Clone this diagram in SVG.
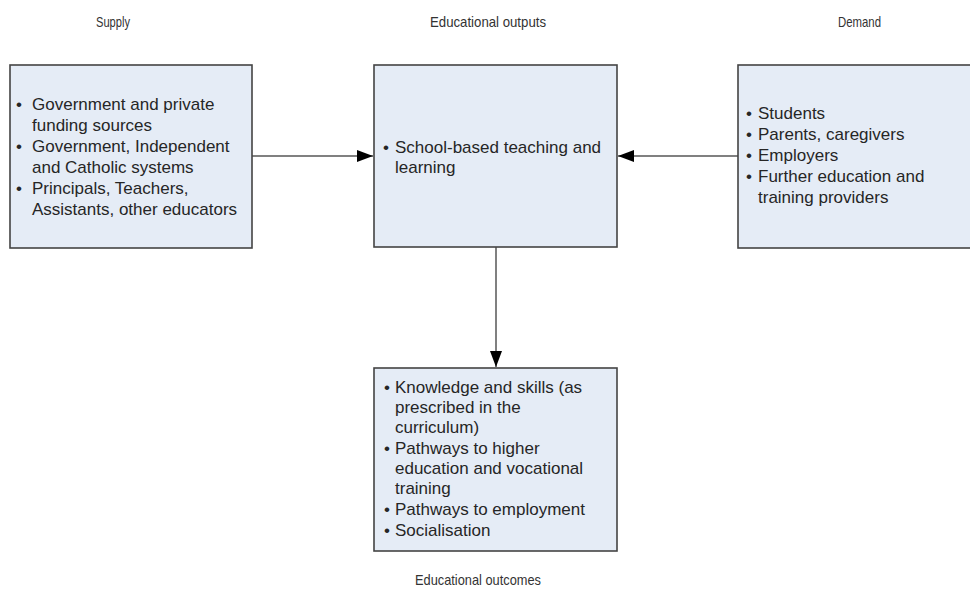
<svg xmlns="http://www.w3.org/2000/svg" width="970" height="592" viewBox="0 0 970 592">
<style>
.box{fill:#e5ecf6;stroke:#444;stroke-width:1.6}
.t{font-family:"Liberation Sans",Arial,sans-serif;font-size:17px;fill:#262626}
.h{font-family:"Liberation Sans",Arial,sans-serif;font-size:14.5px;fill:#333}
.c{stroke:#808080;stroke-width:2;fill:none}
</style>
<defs>
<marker id="ah" markerWidth="16" markerHeight="12" refX="16" refY="6" orient="auto" markerUnits="userSpaceOnUse">
<path d="M0,0 L16,6 L0,12 Z" fill="#000"/>
</marker>
</defs>
<rect width="970" height="592" fill="#fff"/>
<text class="h" x="96" y="27" textLength="34" lengthAdjust="spacingAndGlyphs">Supply</text>
<text class="h" x="430" y="27" textLength="116" lengthAdjust="spacingAndGlyphs">Educational outputs</text>
<text class="h" x="838" y="27" textLength="43" lengthAdjust="spacingAndGlyphs">Demand</text>
<text class="h" x="415" y="585" textLength="126" lengthAdjust="spacingAndGlyphs">Educational outcomes</text>
<g id="connectors">
<line class="c" x1="252" y1="156" x2="373" y2="156" marker-end="url(#ah)"/>
<line class="c" x1="738" y1="156" x2="618" y2="156" marker-end="url(#ah)"/>
<line class="c" x1="496" y1="247" x2="496" y2="367" marker-end="url(#ah)"/>
</g>
<g id="supply">
<rect class="box" x="10" y="65" width="242" height="183"/>
<text class="t"><tspan x="16" y="110">•</tspan><tspan x="32" y="110">Government and private</tspan><tspan x="32" y="131">funding sources</tspan><tspan x="16" y="152">•</tspan><tspan x="32" y="152">Government, Independent</tspan><tspan x="32" y="173">and Catholic systems</tspan><tspan x="16" y="194">•</tspan><tspan x="32" y="194">Principals, Teachers,</tspan><tspan x="32" y="215">Assistants, other educators</tspan></text>
</g>
<g id="outputs">
<rect class="box" x="374" y="65" width="243" height="182"/>
<text class="t"><tspan x="383" y="153">•</tspan><tspan x="395" y="153">School-based teaching and</tspan><tspan x="395" y="173">learning</tspan></text>
</g>
<g id="demand">
<rect class="box" x="738" y="65" width="240" height="183"/>
<text class="t"><tspan x="746" y="119">•</tspan><tspan x="758" y="119">Students</tspan><tspan x="746" y="140">•</tspan><tspan x="758" y="140">Parents, caregivers</tspan><tspan x="746" y="161">•</tspan><tspan x="758" y="161">Employers</tspan><tspan x="746" y="182">•</tspan><tspan x="758" y="182">Further education and</tspan><tspan x="758" y="203">training providers</tspan></text>
</g>
<g id="outcomes">
<rect class="box" x="374" y="368" width="243" height="183"/>
<text class="t"><tspan x="384" y="393">•</tspan><tspan x="395" y="393">Knowledge and skills (as</tspan><tspan x="395" y="413">prescribed in the</tspan><tspan x="395" y="433">curriculum)</tspan><tspan x="384" y="454">•</tspan><tspan x="395" y="454">Pathways to higher</tspan><tspan x="395" y="474">education and vocational</tspan><tspan x="395" y="494">training</tspan><tspan x="384" y="515">•</tspan><tspan x="395" y="515">Pathways to employment</tspan><tspan x="384" y="536">•</tspan><tspan x="395" y="536">Socialisation</tspan></text>
</g>
</svg>
